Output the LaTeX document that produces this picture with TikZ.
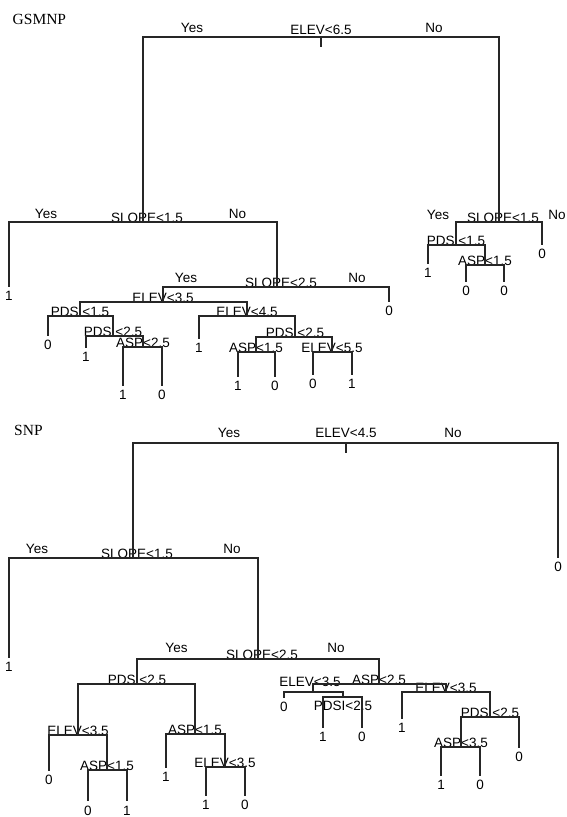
\documentclass[tikz,border=0pt]{standalone}
\usepackage{fontspec}
\setmainfont{Liberation Serif}
\setsansfont{Liberation Sans}

\begin{document}
\begin{tikzpicture}[x=1pt, y=-1pt,
  every node/.style={font=\sffamily\fontsize{13.5}{16}\selectfont, inner sep=0pt},
  splitlab/.style={anchor=base},
  yesno/.style={anchor=base},
  leaflab/.style={text height=9.7pt, text depth=0pt, outer sep=4.6pt},
  treetitle/.style={anchor=base west, font=\rmfamily\fontsize{15.5}{18}\selectfont},
  branch/.style={draw=black!85, line width=1.1pt}]
  \useasboundingbox (0,0) rectangle (566,817);

  % GSMNP tree
  \node[treetitle] (gtitle) at (12.5,24.5) {GSMNP};
  \coordinate (g0) at (321,37);
  \coordinate (g1) at (143,222);
  \coordinate (g2) at (277,287);
  \coordinate (g3) at (163,302);
  \coordinate (g4) at (80,316);
  \coordinate (g5) at (113,336);
  \coordinate (g6) at (143,347);
  \coordinate (g7) at (247,316);
  \coordinate (g8) at (295,337);
  \coordinate (g9) at (256,352);
  \coordinate (g10) at (332,352);
  \coordinate (g11) at (499,222);
  \coordinate (g12) at (456,245);
  \coordinate (g13) at (485,265);
  \node[splitlab, yshift=3pt] (g0t) at (g0) {ELEV<6.5};
  \node[splitlab, xshift=4pt] (g1t) at (g1) {SLOPE<1.5};
  \node[splitlab, xshift=4pt] (g2t) at (g2) {SLOPE<2.5};
  \node[splitlab] (g3t) at (g3) {ELEV<3.5};
  \node[splitlab] (g4t) at (g4) {PDSI<1.5};
  \node[splitlab] (g5t) at (g5) {PDSI<2.5};
  \node[splitlab] (g6t) at (g6) {ASP<2.5};
  \node[splitlab] (g7t) at (g7) {ELEV<4.5};
  \node[splitlab] (g8t) at (g8) {PDSI<2.5};
  \node[splitlab] (g9t) at (g9) {ASP<1.5};
  \node[splitlab] (g10t) at (g10) {ELEV<5.5};
  \node[splitlab, xshift=4pt] (g11t) at (g11) {SLOPE<1.5};
  \node[splitlab] (g12t) at (g12) {PDSI<1.5};
  \node[splitlab] (g13t) at (g13) {ASP<1.5};
  \node[yesno] (g0y) at (192,32.5) {Yes};
  \node[yesno] (g0n) at (434,32.5) {No};
  \node[yesno] (g1y) at (46,218) {Yes};
  \node[yesno] (g1n) at (237.5,218) {No};
  \node[yesno] (g2y) at (186,282) {Yes};
  \node[yesno] (g2n) at (357,282) {No};
  \node[yesno] (g11y) at (438,219) {Yes};
  \node[yesno] (g11n) at (557,219) {No};
  \node[leaflab] (gl1) at (9,296) {1};
  \node[leaflab] (gl2) at (389,311) {0};
  \node[leaflab] (gl3) at (48,345) {0};
  \node[leaflab] (gl4) at (86,357) {1};
  \node[leaflab] (gl5) at (123,395) {1};
  \node[leaflab] (gl6) at (162,395) {0};
  \node[leaflab] (gl7) at (199,348) {1};
  \node[leaflab] (gl8) at (238,386) {1};
  \node[leaflab] (gl9) at (275,386) {0};
  \node[leaflab] (gl10) at (313,384) {0};
  \node[leaflab] (gl11) at (352,384) {1};
  \node[leaflab] (gl12) at (542,254) {0};
  \node[leaflab] (gl13) at (428,273) {1};
  \node[leaflab] (gl14) at (466,291) {0};
  \node[leaflab] (gl15) at (504,291) {0};
  \draw[branch] (g0) -- ++(0,10);
  \draw[branch] (g1) |- (g0) -| (g11);
  \draw[branch] (gl1.north) |- (g1) -| (g2);
  \draw[branch] (g3) |- (g2) -| (gl2.north);
  \draw[branch] (g4) |- (g3) -| (g7);
  \draw[branch] (gl3.north) |- (g4) -| (g5);
  \draw[branch] (gl4.north) |- (g5) -| (g6);
  \draw[branch] (gl5.north) |- (g6) -| (gl6.north);
  \draw[branch] (gl7.north) |- (g7) -| (g8);
  \draw[branch] (g9) |- (g8) -| (g10);
  \draw[branch] (gl8.north) |- (g9) -| (gl9.north);
  \draw[branch] (gl10.north) |- (g10) -| (gl11.north);
  \draw[branch] (g12) |- (g11) -| (gl12.north);
  \draw[branch] (gl13.north) |- (g12) -| (g13);
  \draw[branch] (gl14.north) |- (g13) -| (gl15.north);

  % SNP tree
  \node[treetitle] (stitle) at (14,435) {SNP};
  \coordinate (s0) at (346,443);
  \coordinate (s1) at (133,558);
  \coordinate (s2) at (258,659);
  \coordinate (s3) at (137,684);
  \coordinate (s4) at (78,735);
  \coordinate (s5) at (107,770);
  \coordinate (s6) at (195,734);
  \coordinate (s7) at (225,767);
  \coordinate (s8) at (379,684);
  \coordinate (s9) at (313,692);
  \coordinate (s10) at (343,697);
  \coordinate (s11) at (446,692);
  \coordinate (s12) at (490,717);
  \coordinate (s13) at (461,747);
  \node[splitlab, yshift=5.5pt] (s0t) at (s0) {ELEV<4.5};
  \node[splitlab, xshift=4pt] (s1t) at (s1) {SLOPE<1.5};
  \node[splitlab, xshift=4pt] (s2t) at (s2) {SLOPE<2.5};
  \node[splitlab] (s3t) at (s3) {PDSI<2.5};
  \node[splitlab] (s4t) at (s4) {ELEV<3.5};
  \node[splitlab] (s5t) at (s5) {ASP<1.5};
  \node[splitlab] (s6t) at (s6) {ASP<1.5};
  \node[splitlab] (s7t) at (s7) {ELEV<3.5};
  \node[splitlab] (s8t) at (s8) {ASP<2.5};
  \node[splitlab, xshift=-3pt, yshift=6pt] (s9t) at (s9) {ELEV<3.5};
  \node[splitlab, yshift=-13pt] (s10t) at (s10) {PDSI<2.5};
  \node[splitlab] (s11t) at (s11) {ELEV<3.5};
  \node[splitlab] (s12t) at (s12) {PDSI<2.5};
  \node[splitlab] (s13t) at (s13) {ASP<3.5};
  \node[yesno] (s0y) at (229,437.5) {Yes};
  \node[yesno] (s0n) at (453,437.5) {No};
  \node[yesno] (s1y) at (37,553) {Yes};
  \node[yesno] (s1n) at (232,553) {No};
  \node[yesno] (s2y) at (176.5,652.5) {Yes};
  \node[yesno] (s2n) at (336,652.5) {No};
  \node[leaflab] (sl1) at (558,567) {0};
  \node[leaflab] (sl2) at (9,667) {1};
  \node[leaflab] (sl3) at (49,780) {0};
  \node[leaflab] (sl4) at (88,810.5) {0};
  \node[leaflab] (sl5) at (127,810.5) {1};
  \node[leaflab] (sl6) at (166,777) {1};
  \node[leaflab] (sl7) at (206,805) {1};
  \node[leaflab] (sl8) at (245,805) {0};
  \node[leaflab] (sl9) at (284,707) {0};
  \node[leaflab] (sl10) at (323,737) {1};
  \node[leaflab] (sl11) at (362,737) {0};
  \node[leaflab] (sl12) at (402,728) {1};
  \node[leaflab] (sl13) at (519,757) {0};
  \node[leaflab] (sl14) at (441,785) {1};
  \node[leaflab] (sl15) at (480,785) {0};
  \draw[branch] (s0) -- ++(0,10);
  \draw[branch] (s1) |- (s0) -| (sl1.north);
  \draw[branch] (sl2.north) |- (s1) -| (s2);
  \draw[branch] (s3) |- (s2) -| (s8);
  \draw[branch] (s4) |- (s3) -| (s6);
  \draw[branch] (sl3.north) |- (s4) -| (s5);
  \draw[branch] (sl4.north) |- (s5) -| (sl5.north);
  \draw[branch] (sl6.north) |- (s6) -| (s7);
  \draw[branch] (sl7.north) |- (s7) -| (sl8.north);
  \draw[branch] (s9) |- (s8) -| (s11);
  \draw[branch] (sl9.north) |- (s9) -| (s10);
  \draw[branch] (sl10.north) |- (s10) -| (sl11.north);
  \draw[branch] (sl12.north) |- (s11) -| (s12);
  \draw[branch] (s13) |- (s12) -| (sl13.north);
  \draw[branch] (sl14.north) |- (s13) -| (sl15.north);
\end{tikzpicture}
\end{document}
